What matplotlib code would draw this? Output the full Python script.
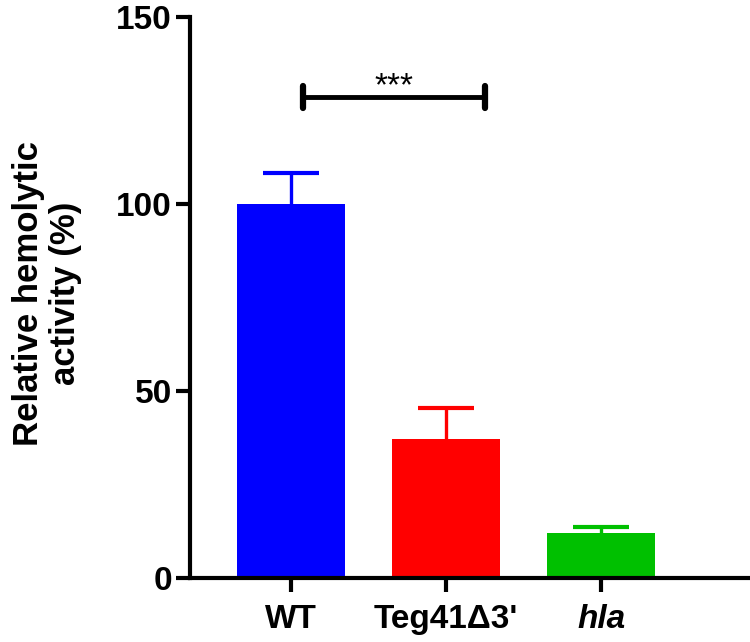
import numpy as np
import matplotlib.pyplot as plt

groups = ["WT", "Teg41Δ3'", "hla"]
means = [100.0, 37.2, 12.0]
sem = [8.4, 8.3, 1.6]
colors = ["#0000FF", "#FF0000", "#00C000"]

sig_x = [0.08, 1.25]
sig_y = 128.6
sig_text = "***"

plt.rcParams['font.family'] = ['Liberation Sans', 'DejaVu Sans']

fig = plt.figure(figsize=(7.5, 6.42), dpi=100)
ax = fig.add_axes([0.2533, 0.0997, 0.7467, 0.8738])

x = np.arange(len(groups))
ax.bar(x, means, width=0.70, color=colors, zorder=2)
# upper error bars only, drawn as stem + cap
tops = np.array(means) + np.array(sem)
ax.vlines(x, means, tops, colors=colors, lw=2.4, zorder=1)
ax.hlines(tops, x - 0.18, x + 0.18, colors=colors, lw=3, zorder=1)

# significance bracket
ax.plot(sig_x, [sig_y, sig_y], color='black', lw=3.5, solid_capstyle='round')
for sx in sig_x:
    ax.plot([sx, sx], [sig_y - 3.0, sig_y + 3.0], color='black', lw=4.5,
            solid_capstyle='round')
ax.text(np.mean(sig_x), sig_y + 0.4, sig_text, ha='center', va='baseline',
        fontsize=24)

ax.set_xlim(-0.65, 2.96)
ax.set_ylim(0, 150)
ax.set_yticks([0, 50, 100, 150])
ax.set_xticks(x)
ax.set_xticklabels(groups, fontsize=24, fontweight='bold')
ax.get_xticklabels()[2].set_style('italic')
ax.tick_params(axis='both', length=10, width=3, labelsize=24)
ax.tick_params(axis='x', pad=9)
ax.tick_params(axis='y', pad=3)
for lab in ax.get_yticklabels():
    lab.set_fontweight('bold')

for s in ['top', 'right']:
    ax.spines[s].set_visible(False)
for s in ['left', 'bottom']:
    ax.spines[s].set_linewidth(3)

ax.set_ylabel("Relative hemolytic\nactivity (%)", fontsize=25, fontweight='bold',
              linespacing=1.15)
ax.yaxis.set_label_coords(-0.193, 0.508)

fig.savefig("out.png", dpi=100)
